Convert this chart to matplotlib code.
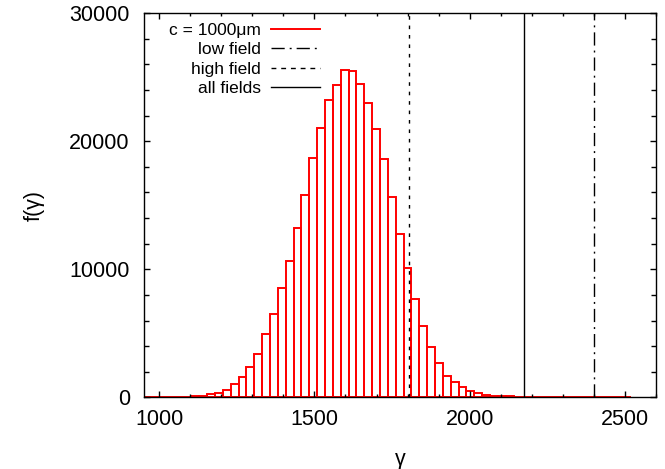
import numpy as np
import matplotlib.pyplot as plt
from matplotlib.lines import Line2D
from matplotlib.ticker import MultipleLocator

plt.rcParams['font.family'] = ['Liberation Sans', 'DejaVu Sans']

# histogram bins (left edges) and counts
bin_left = [952.2, 977.5, 1002.8, 1028.1, 1053.4, 1078.7,
            1104.0, 1129.3, 1154.6, 1179.9, 1205.2, 1230.5, 1255.8, 1281.1,
            1306.4, 1331.7, 1357.0, 1382.3, 1407.6, 1432.9, 1458.2, 1483.5,
            1508.8, 1534.1, 1559.4, 1584.7, 1610.0, 1635.3, 1660.6, 1685.9,
            1711.2, 1736.5, 1761.8, 1787.1, 1812.4, 1837.7, 1863.0, 1888.3,
            1913.6, 1938.9, 1964.2, 1989.5, 2014.8, 2040.1, 2065.4, 2090.7,
            2116.0, 2141.3, 2166.6, 2191.9, 2217.2, 2242.5, 2267.8, 2293.1,
            2318.4, 2343.7, 2369.0, 2394.3, 2419.6, 2444.9, 2470.2, 2495.5]
bin_width = 25.3
counts = [2, 3, 5, 8, 15, 30,
          95, 140, 250, 375, 610, 1030, 1570, 2400,
          3390, 4920, 6480, 8550, 10630, 13230, 15770, 18680,
          21050, 23250, 24420, 25590, 25490, 24470, 22970, 20970,
          18630, 15640, 12790, 10110, 7650, 5590, 3910, 2660,
          1700, 1210, 790, 480, 330, 220, 140, 110,
          85, 60, 45, 35, 25, 20, 15, 12,
          9, 7, 5, 4, 3, 2, 2, 1]

# mean gamma for the field cases
gamma_high = 1805
gamma_all = 2176
gamma_low = 2400

fig = plt.figure(figsize=(6.65, 4.69), dpi=100)
ax = fig.add_axes([0.216, 0.1525, 0.7705, 0.8195])

ax.bar(bin_left, counts, width=bin_width, align='edge', fill=False,
       edgecolor='#ff0000', linewidth=1.4)
ax.axvline(gamma_low, color='black', lw=1.0, dashes=(9.5, 3.6, 1.4, 3.6))
ax.axvline(gamma_high, color='black', lw=1.0, dashes=(2.6, 4.2))
ax.axvline(gamma_all, color='black', lw=1.0)

ax.set_xlim(950, 2600)
ax.set_ylim(0, 30000)
ax.xaxis.set_major_locator(MultipleLocator(500))
ax.xaxis.set_minor_locator(MultipleLocator(100))
ax.yaxis.set_major_locator(MultipleLocator(10000))
ax.yaxis.set_minor_locator(MultipleLocator(2000))
ax.tick_params(which='both', direction='in', top=True, right=True,
               labelsize=15.5, width=1.0)
ax.tick_params(axis='x', which='major', length=4.5, pad=8)
ax.tick_params(axis='x', which='minor', length=2.2)
ax.tick_params(axis='y', which='major', length=4.5, pad=10)
ax.tick_params(axis='y', which='minor', length=3.5)
for s in ax.spines.values():
    s.set_linewidth(1.0)

ax.set_xlabel('γ', fontsize=15.5, labelpad=14)
ax.set_ylabel('f(γ)', fontsize=15.5, labelpad=18)

handles = [Line2D([], [], color='#ff0000', lw=1.4),
           Line2D([], [], color='black', lw=1.0, dashes=(9.5, 3.6, 1.4, 3.6)),
           Line2D([], [], color='black', lw=1.0, dashes=(3.5, 3.5)),
           Line2D([], [], color='black', lw=1.0)]
labels = ['c = 1000μm', 'low field', 'high field', 'all fields']
leg = ax.legend(handles, labels,
                loc='upper right', bbox_to_anchor=(0.344, 0.975),
                frameon=False, markerfirst=False, fontsize=12.5,
                handlelength=2.8, handletextpad=0.6, labelspacing=0.25,
                borderpad=0, borderaxespad=0)
leg._legend_box._children[-1]._children[0].align = 'right'

fig.savefig('out.png', dpi=100)
